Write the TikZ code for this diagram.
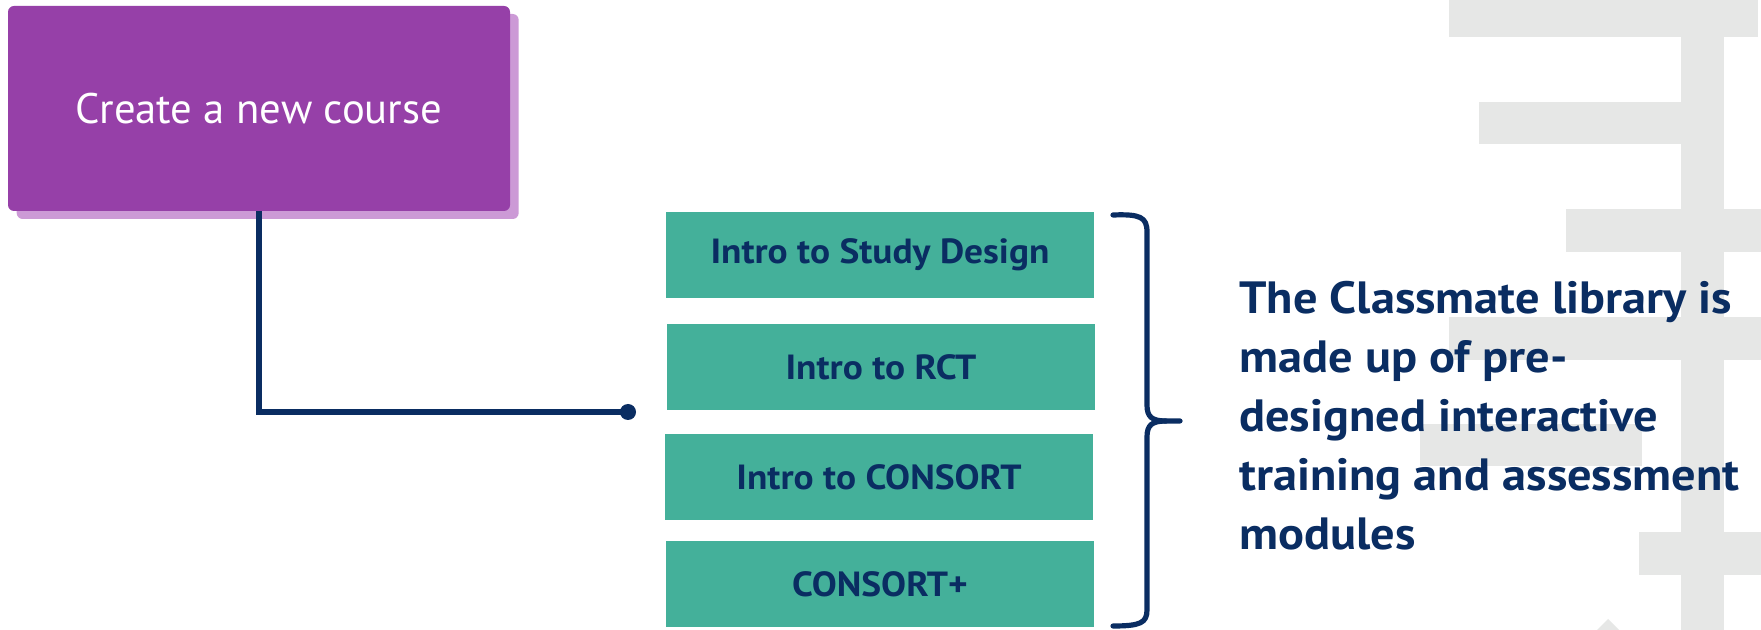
\documentclass[tikz,border=0pt]{standalone}
\usepackage{fontspec}
\setmainfont{PT Sans}
\newfontfamily\widesans{PT Sans}[FakeStretch=1.07]
\usetikzlibrary{shadows}
\definecolor{navy}{RGB}{10,45,98}
\definecolor{boxgreen}{RGB}{68,176,154}
\definecolor{boxpurple}{RGB}{150,64,168}
\definecolor{shadowpurple}{RGB}{204,154,214}
\definecolor{bggray}{RGB}{230,231,230}
\begin{document}
\begin{tikzpicture}[x=0.75pt,y=-0.75pt,
  modbox/.style={fill=boxgreen, minimum width=321pt, minimum height=64.5pt, inner sep=0pt,
    text=navy, font=\widesans\bfseries\fontsize{26.2}{32}\selectfont},
  createbox/.style={fill=boxpurple, rounded corners=4.5pt, minimum width=376.5pt,
    minimum height=153.75pt, inner sep=0pt, text=white, font=\fontsize{32}{38}\selectfont,
    drop shadow={shadow xshift=6.5pt, shadow yshift=-6pt, fill=shadowpurple, opacity=1}},
  conn/.style={draw=navy, line width=4pt},
  bracestyle/.style={draw=navy, line width=3.9pt, line cap=round, line join=round}
]
\useasboundingbox (0,0) rectangle (1761,630);
\fill[white] (0,0) rectangle (1761,630);
% background gray shapes
\fill[bggray] (1449,0) rectangle (1758,37);
\fill[bggray] (1681,37) rectangle (1724,630);
\fill[bggray] (1479,102) rectangle (1681,144);
\fill[bggray] (1566,209) rectangle (1761,252);
\fill[bggray] (1449,317) rectangle (1761,360);
\fill[bggray] (1420,424) rectangle (1642,466);
\fill[bggray] (1639,532) rectangle (1761,575);
\fill[bggray] (1596,631) -- (1608,619) -- (1620,631) -- cycle;
% create box
\node[createbox] (create) at (259,108.5) {\raisebox{-3pt}{Create a new course}};
% module boxes
\node[modbox] (m1) at (880,255) {Intro to Study Design};
\node[modbox] (m2) at (881,367) {Intro to RCT};
\node[modbox] (m3) at (879,477) {Intro to CONSORT};
\node[modbox] (m4) at (880,584) {CONSORT+};
% connector
\node[circle, fill=navy, minimum size=12pt, inner sep=0pt] (dot) at (628,412) {};
\draw[conn] (create.south) |- (dot.center);
% brace
\draw[bracestyle]
  (1113,215) .. controls (1140,214) and (1147,217) .. (1147,232)
  -- (1147,405) .. controls (1147,417) and (1152,421) .. (1166,421)
  -- (1180,421);
\draw[bracestyle]
  (1166,421) .. controls (1152,421) and (1147,425) .. (1147,437)
  -- (1147,610) .. controls (1147,623) and (1140,626) .. (1113,626);
% description
\node[anchor=base west, align=left, text=navy, inner sep=0pt,
  font=\widesans\bfseries\fontsize{33.9}{44.25}\selectfont] (lib) at (1239,549.5)
  {The Classmate library is\\made up of pre-\\designed interactive\\training and assessment\\modules};
\end{tikzpicture}
\end{document}
